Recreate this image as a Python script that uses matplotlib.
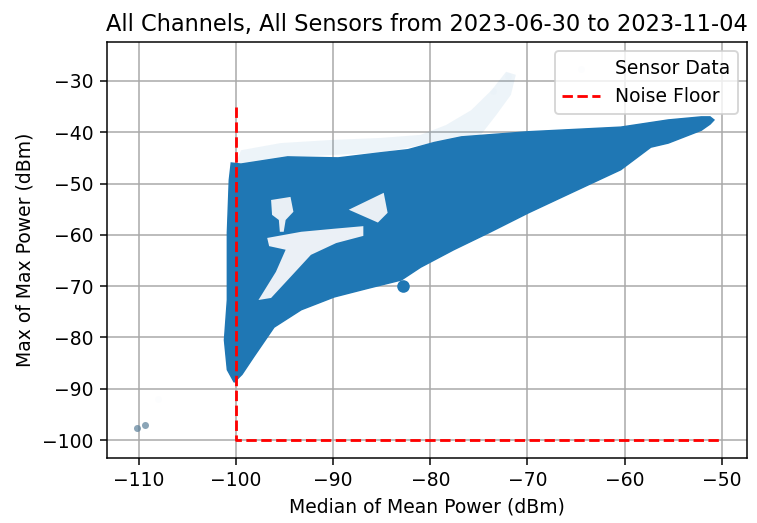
import matplotlib
matplotlib.use('Agg')
from matplotlib import pyplot as plt

# outline of the saturated point cloud (median of mean power, max of max power)
blob_x = [-100.5, -99.5, -94.7, -89.5, -85.1, -82.3, -79.6, -76.8, -69.9, -60.4,
          -55.5, -52.1, -51.2, -50.8, -51.2, -52.1, -55.5, -57.3, -60.4, -65.5,
          -69.9, -74.0, -77.6, -81.0, -83.0, -86.4, -89.9, -93.3, -96.1, -98.2,
          -99.4, -100.2, -100.9, -101.2, -100.9, -100.9, -100.7]
blob_y = [-46.0, -46.2, -44.8, -45.0, -44.0, -43.4, -42.0, -40.9, -39.9, -39.0,
          -37.6, -37.0, -37.0, -37.6, -38.4, -39.6, -42.1, -42.9, -47.3, -51.8,
          -55.7, -59.6, -62.9, -66.3, -68.8, -70.4, -72.1, -74.6, -78.0, -83.8,
          -87.2, -88.7, -86.3, -80.5, -72.7, -59.6, -49.3]

# sparse points above the dense region
fringe_x = [-100.0, -99.5, -95.4, -90.2, -85.1, -81.0, -78.4, -75.8, -73.7, -72.2,
            -71.2, -71.7, -73.2, -74.8, -79.6, -85.1, -94.7, -99.5]
fringe_y = [-46.0, -43.5, -42.1, -41.5, -41.1, -40.5, -38.6, -35.7, -31.8, -28.2,
            -28.8, -32.7, -36.6, -40.5, -42.0, -44.0, -44.8, -46.2]

# empty areas inside the cloud
gap1_x = [-96.4, -94.4, -94.1, -94.9, -95.1, -95.5, -95.6, -96.3]
gap1_y = [-53.2, -52.6, -55.5, -57.1, -59.4, -59.4, -57.1, -56.1]
gap2_x = [-88.4, -84.8, -84.4, -85.4, -87.2]
gap2_y = [-55.1, -51.8, -55.7, -57.6, -56.1]
gap3_x = [-97.7, -95.9, -94.9, -96.6, -96.8, -93.3, -89.9, -86.9, -86.9, -89.7,
          -92.3, -94.2, -96.4]
gap3_y = [-72.7, -67.2, -62.9, -62.2, -60.6, -59.4, -58.8, -58.3, -60.2, -61.6,
          -63.9, -67.8, -72.3]

# isolated clusters
spot_x = [-82.8]
spot_y = [-70.0]
outlier_x = [-110.2, -109.4]
outlier_y = [-97.6, -97.0]
faint_x = [-108.0, -72.0, -73.5]
faint_y = [-92.0, -29.0, -32.0]

noise_x = [-100, -100, -50]
noise_y = [-35, -100, -100]

blue = '#1f77b4'

fig = plt.figure(figsize=(757/135, 523/135), dpi=135)
ax = fig.add_axes([0.1413, 0.1243, 0.8454, 0.7954])

ax.fill(fringe_x, fringe_y, color=blue, alpha=0.08, lw=0)
ax.fill(blob_x, blob_y, color=blue, lw=0.8, ec=blue)
ax.fill(gap1_x, gap1_y, color='#e9eff5', lw=0)
ax.fill(gap2_x, gap2_y, color='#e9eff5', lw=0)
ax.fill(gap3_x, gap3_y, color='#ebf0f6', lw=0)
ax.scatter(spot_x, spot_y, s=45, color=blue, lw=0)
ax.scatter(outlier_x, outlier_y, s=14, color='#5a7f99', alpha=0.7, lw=0)
ax.scatter(faint_x, faint_y, s=14, color=blue, alpha=0.01, lw=0, label='Sensor Data')

plt.plot(noise_x, noise_y, 'r--', label='Noise Floor')

ax.set_xlim(-113.3, -47.4)
ax.set_ylim(-103.5, -22.4)
ax.grid(True, color='#a8a8a8')
ax.set_axisbelow(True)

plt.title('All Channels, All Sensors from 2023-06-30 to 2023-11-04', fontsize=12)
plt.xlabel('Median of Mean Power (dBm)')
plt.ylabel('Max of Max Power (dBm)')
plt.legend(loc='upper right')

fig.savefig('out.png', dpi=135)
